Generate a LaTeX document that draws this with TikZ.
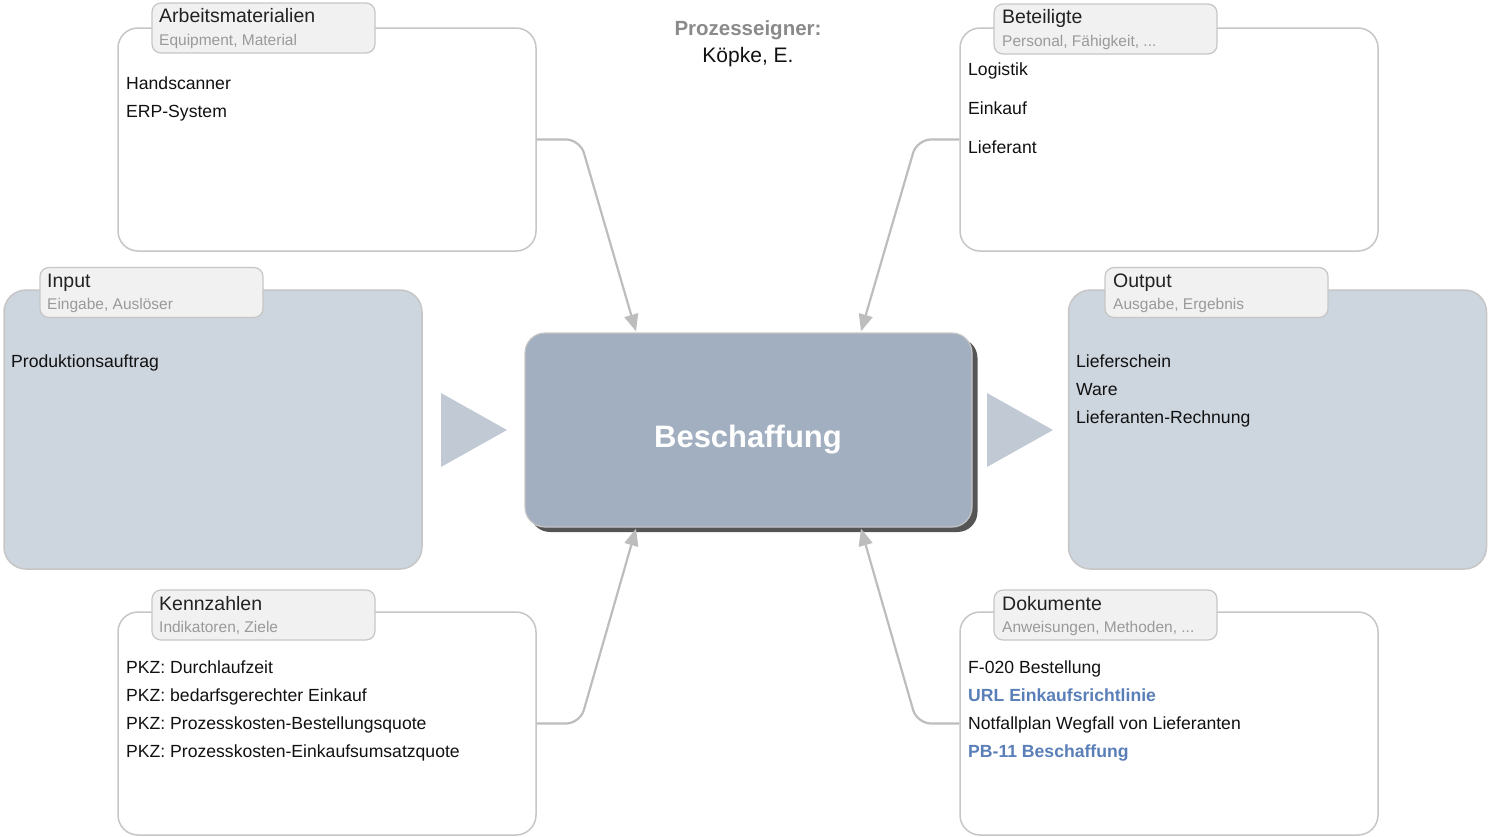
\documentclass[tikz,border=0pt]{standalone}
\usepackage{fontspec}
\setmainfont{Liberation Sans}
\usetikzlibrary{arrows.meta,calc}

\definecolor{panelline}{HTML}{C6C6C6}
\definecolor{tabfill}{HTML}{F1F1F1}
\definecolor{subgray}{HTML}{9A9A9A}
\definecolor{titleink}{HTML}{222222}
\definecolor{bodyink}{HTML}{111111}
\definecolor{linkblue}{HTML}{5A7FB8}
\definecolor{connline}{HTML}{BDBDBD}
\definecolor{iofill}{HTML}{CDD5DE}
\definecolor{procfill}{HTML}{A1AFC0}
\definecolor{procshadow}{HTML}{555555}
\definecolor{trifill}{HTML}{C1CAD4}
\definecolor{ownergray}{HTML}{8A8A8A}

\tikzset{
  panel/.style={draw=panelline, line width=1.5pt, rounded corners=20pt, fill=white,
    minimum width=418pt, minimum height=223pt, inner sep=0pt},
  iopanel/.style={panel, fill=iofill, minimum width=418pt, minimum height=279pt, rounded corners=22pt},
  tabbox/.style={draw=panelline, line width=1.2pt, rounded corners=9pt, fill=tabfill,
    minimum width=223pt, minimum height=50pt, inner sep=0pt},
  tabtitle/.style={anchor=base west, inner sep=0pt, text=titleink, font=\fontsize{19.5}{22}\selectfont},
  tabsub/.style={anchor=base west, inner sep=0pt, text=subgray, font=\fontsize{15.5}{18}\selectfont},
  entry/.style={anchor=base west, inner sep=0pt, text=bodyink, font=\fontsize{17.6}{20}\selectfont},
  linkentry/.style={entry, text=linkblue, font=\fontsize{17.6}{20}\selectfont\bfseries},
  conn/.style={draw=connline, line width=2.2pt, rounded corners=14pt,
    -{Triangle[length=17pt,width=14pt]}},
  flowtri/.style={fill=trifill},
}

\begin{document}
\begin{tikzpicture}[x=1pt,y=-1pt]
\useasboundingbox (0,0) rectangle (1489,836);

% ---- process owner
\node[anchor=base, inner sep=0pt, text=ownergray, font=\fontsize{20.5}{24}\selectfont\bfseries] (ownerlabel) at (748,35.5) {Prozesseigner:};
\node[anchor=base, inner sep=0pt, text=bodyink, font=\fontsize{21}{24}\selectfont] (ownername) at (748,62.5) {Köpke, E.};

% ---- central process box with shadow
\fill[procshadow, rounded corners=20pt] (530,338) rectangle (977.5,532);
\node[draw=panelline, line width=1.2pt, fill=procfill, rounded corners=20pt,
  minimum width=447pt, minimum height=194pt, inner sep=0pt] (proc) at (748.5,430) {};
\node[anchor=base, inner sep=0pt, text=white, font=\fontsize{31}{34}\selectfont\bfseries] (proctext) at (748,447) {Beschaffung};

% ---- Arbeitsmaterialien
\node[panel] (arb) at (327,139.5) {};
\node[tabbox] (arbtab) at (263.5,28) {};
\node[tabtitle] (arbtitle) at (159,22) {Arbeitsmaterialien};
\node[tabsub] (arbsub) at (159,45.6) {Equipment, Material};
\node[entry] (arb1) at (126,89.3) {Handscanner};
\node[entry] (arb2) at (126,117.3) {ERP-System};

% ---- Beteiligte
\node[panel] (bet) at (1169,139.5) {};
\node[tabbox] (bettab) at (1105.5,29) {};
\node[tabtitle] (bettitle) at (1002,23) {Beteiligte};
\node[tabsub] (betsub) at (1002,46.6) {Personal, Fähigkeit, ...};
\node[entry] (bet1) at (968,75.3) {Logistik};
\node[entry] (bet2) at (968,114.3) {Einkauf};
\node[entry] (bet3) at (968,153.3) {Lieferant};

% ---- Input
\node[iopanel] (inp) at (213,429.5) {};
\node[tabbox] (inptab) at (151.5,292.5) {};
\node[tabtitle] (inptitle) at (47,287) {Input};
\node[tabsub] (inpsub) at (47,309.6) {Eingabe, Auslöser};
\node[entry] (inp1) at (11,367.3) {Produktionsauftrag};

% ---- Output
\node[iopanel] (out) at (1277.5,429.5) {};
\node[tabbox] (outtab) at (1216.5,292.5) {};
\node[tabtitle] (outtitle) at (1113,287) {Output};
\node[tabsub] (outsub) at (1113,309.6) {Ausgabe, Ergebnis};
\node[entry] (out1) at (1076,367.3) {Lieferschein};
\node[entry] (out2) at (1076,395.3) {Ware};
\node[entry] (out3) at (1076,423.3) {Lieferanten-Rechnung};

% ---- Kennzahlen
\node[panel] (kz) at (327,723.5) {};
\node[tabbox] (kztab) at (263.5,615) {};
\node[tabtitle] (kztitle) at (159,610) {Kennzahlen};
\node[tabsub] (kzsub) at (159,632.6) {Indikatoren, Ziele};
\node[entry] (kz1) at (126,673.3) {PKZ: Durchlaufzeit};
\node[entry] (kz2) at (126,701.3) {PKZ: bedarfsgerechter Einkauf};
\node[entry] (kz3) at (126,729.3) {PKZ: Prozesskosten-Bestellungsquote};
\node[entry] (kz4) at (126,757.3) {PKZ: Prozesskosten-Einkaufsumsatzquote};

% ---- Dokumente
\node[panel] (dok) at (1169,723.5) {};
\node[tabbox] (doktab) at (1105.5,615) {};
\node[tabtitle] (doktitle) at (1002,610) {Dokumente};
\node[tabsub] (doksub) at (1002,632.6) {Anweisungen, Methoden, ...};
\node[entry] (dok1) at (968,673.3) {F-020 Bestellung};
\node[linkentry] (dok2) at (968,701.3) {URL Einkaufsrichtlinie};
\node[entry] (dok3) at (968,729.3) {Notfallplan Wegfall von Lieferanten};
\node[linkentry] (dok4) at (968,757.3) {PB-11 Beschaffung};

% ---- flow triangles
\fill[flowtri] (441,393) -- (507,430) -- (441,467) -- cycle;
\fill[flowtri] (987,393) -- (1053,430) -- (987,467) -- cycle;

% ---- connectors into the process box
\coordinate (tlbend) at (580,139.5);
\coordinate (trbend) at (917,139.5);
\coordinate (blbend) at (580,723.5);
\coordinate (brbend) at (917,723.5);
\coordinate (tltip) at ($(proc.north)+(-112.5,-1)$);
\coordinate (trtip) at ($(proc.north)+(112.5,-1)$);
\coordinate (bltip) at ($(proc.south)+(-112.5,1)$);
\coordinate (brtip) at ($(proc.south)+(112.5,1)$);
\draw[conn] (arb.east) -- (tlbend) -- (tltip);
\draw[conn] (bet.west) -- (trbend) -- (trtip);
\draw[conn] (kz.east) -- (blbend) -- (bltip);
\draw[conn] (dok.west) -- (brbend) -- (brtip);
\end{tikzpicture}
\end{document}
